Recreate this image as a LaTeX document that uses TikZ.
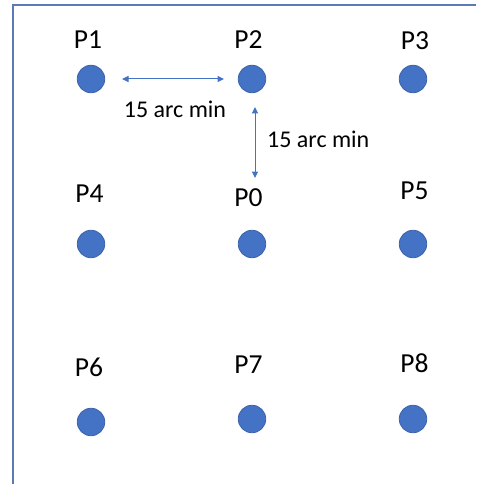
\documentclass[tikz,border=0pt]{standalone}
\usepackage{fontspec}
\setmainfont{Carlito}
\usetikzlibrary{arrows.meta}
\definecolor{dotblue}{HTML}{4472C4}
\definecolor{dotedge}{HTML}{3A62AA}
\definecolor{framecol}{HTML}{5B7AB8}
\tikzset{
  pt/.style={circle, fill=dotblue, draw=dotedge, line width=0.8pt, minimum size=27.5pt, inner sep=0pt},
  plabel/.style={font=\fontsize{27.5}{30}\selectfont, inner sep=0pt},
  dimlabel/.style={font=\fontsize{24}{27}\selectfont, inner sep=0pt},
  dimarrow/.style={draw=dotblue, line width=1pt, {Triangle[length=6.5pt,width=6pt]}-{Triangle[length=6.5pt,width=6pt]}}
}
\begin{document}
\begin{tikzpicture}[x=1pt, y=-1pt]
\useasboundingbox (0,0) rectangle (476,484);
\fill[white] (0,0) rectangle (476,484);
% frame edges
\draw[framecol, line width=1.4pt] (13,484) -- (13,5) -- (476,5);

% grid of points
\node[pt] (p1) at (91,79) {};
\node[pt] (p2) at (252,79) {};
\node[pt] (p3) at (413,79) {};
\node[pt] (p4) at (91,244) {};
\node[pt] (p0) at (252,244) {};
\node[pt] (p5) at (413,244) {};
\node[pt] (p6) at (91,422) {};
\node[pt] (p7) at (252,419) {};
\node[pt] (p8) at (413,419) {};

% labels
\node[plabel] (l1) at (88,40) {P1};
\node[plabel] (l2) at (248.5,40) {P2};
\node[plabel] (l3) at (415,41) {P3};
\node[plabel] (l4) at (89.5,194) {P4};
\node[plabel] (l0) at (248.5,197.5) {P0};
\node[plabel] (l5) at (414.5,190.5) {P5};
\node[plabel] (l6) at (89,367) {P6};
\node[plabel] (l7) at (248.5,365) {P7};
\node[plabel] (l8) at (414.5,363) {P8};

% spacing markers
\coordinate (ha) at (122,79);
\coordinate (hb) at (224,79);
\coordinate (va) at (255,107);
\coordinate (vb) at (255,178);
\draw[dimarrow] (ha) -- (hb);
\draw[dimarrow] (va) -- (vb);
\node[dimlabel] (hl) at (175,109) {15 arc min};
\node[dimlabel, anchor=west] (vl) at (267,139) {15 arc min};
\end{tikzpicture}
\end{document}
